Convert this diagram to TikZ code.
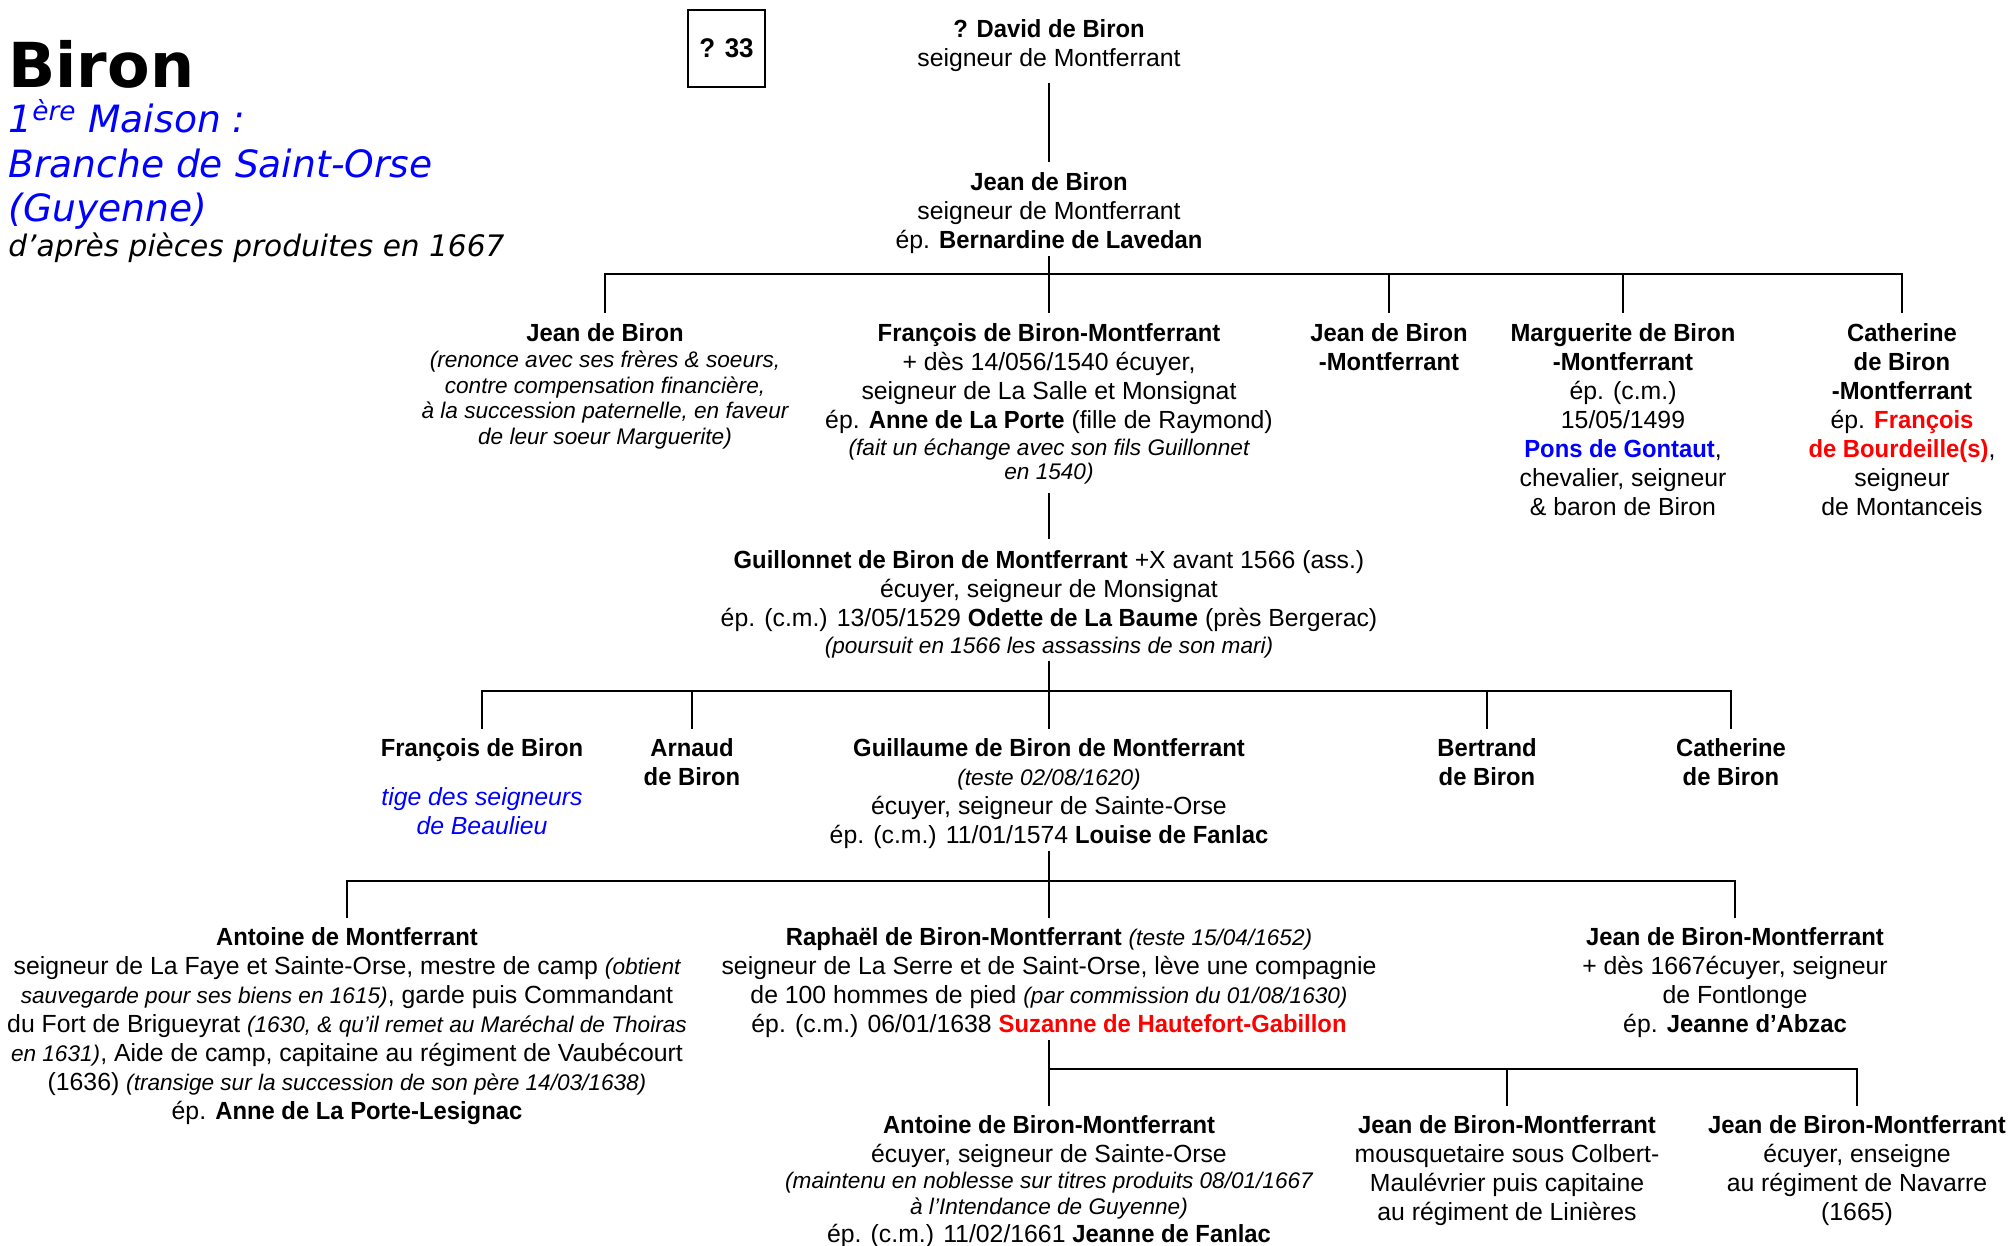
\documentclass[tikz,border=0pt]{standalone}
\usepackage{fontspec}
\setmainfont{Liberation Sans}[BoldFeatures={FakeStretch=0.96}]
\newfontfamily\titlefont{DejaVu Sans}
\usepackage{xcolor}
\usepackage{tikz}

\newcommand{\remq}[1]{{\fontsize{11.3}{12.8}\selectfont\itshape #1}}  % remarques en italique

\begin{document}
\begin{tikzpicture}[x=0.5pt,y=-0.5pt]
    \definecolor{myblue}{RGB}{0,0,255}
    \definecolor{myred}{RGB}{255,0,0}

    \tikzstyle{person}=[align=center,inner sep=0pt,anchor=north,font=\fontsize{12.4}{14.45}\selectfont,execute at begin node={\rule{0pt}{10pt}}]  % une personne
    \tikzstyle{link}=[line width=1pt,shorten >=5pt]  % trait de filiation
    \tikzstyle{titre}=[anchor=base west,inner sep=0pt]  % lignes du titre

    \useasboundingbox (0,0) rectangle (2014,1246);

    % titre
    \node[titre,font=\titlefont\bfseries\fontsize{31}{31}\selectfont] (biron) at (8,88) {Biron};
    \node[titre,text=myblue,font=\titlefont\itshape\fontsize{18.8}{22}\selectfont] (maison) at (8,133) {1\textsuperscript{ère} Maison :};
    \node[titre,text=myblue,font=\titlefont\itshape\fontsize{18.8}{22}\selectfont] (branche) at (8,178) {Branche de Saint-Orse};
    \node[titre,text=myblue,font=\titlefont\itshape\fontsize{18.8}{22}\selectfont] (guyenne) at (8,222) {(Guyenne)};
    \node[titre,font=\titlefont\itshape\fontsize{14.8}{17}\selectfont] (source) at (8,257) {d’après pièces produites en 1667};
    \node[draw,line width=0.8pt,minimum width=38.5pt,minimum height=38.5pt,inner sep=0pt,font=\bfseries\fontsize{13.5}{13.5}\selectfont] (num) at (726.5,48.5) {? 33};

    % generations
    \node[person] (david) at (1049,19.5) {\textbf{? David de Biron}\\seigneur de Montferrant};
    \node[person] (jean) at (1049,172.5) {\textbf{Jean de Biron}\\seigneur de Montferrant\\ép. \textbf{Bernardine de Lavedan}};

    \node[person] (jeanA) at (605,323.5) {\textbf{Jean de Biron}\\[-1.6pt]\remq{(renonce avec ses frères \& soeurs,}\\[-1.6pt]\remq{contre compensation financière,}\\[-1.6pt]\remq{à la succession paternelle, en faveur}\\[-1.6pt]\remq{de leur soeur Marguerite)}};
    \node[person] (francois) at (1049,323.5) {\textbf{François de Biron-Montferrant}\\+ dès 14/056/1540 écuyer,\\seigneur de La Salle et Monsignat\\ép. \textbf{Anne de La Porte} (fille de Raymond)\\[-1pt]\remq{(fait un échange avec son fils Guillonnet}\\[-2.2pt]\remq{en 1540)}};
    \node[person] (jeanB) at (1389,323.5) {\textbf{Jean de Biron}\\\textbf{-Montferrant}};
    \node[person] (marguerite) at (1623,323.5) {\textbf{Marguerite de Biron}\\\textbf{-Montferrant}\\ép. (c.m.)\\15/05/1499\\\textcolor{myblue}{\textbf{Pons de Gontaut}},\\chevalier,  seigneur\\\& baron de Biron};
    \node[person] (catherineA) at (1902,323.5) {\textbf{Catherine}\\\textbf{de Biron}\\\textbf{-Montferrant}\\ép. \textcolor{myred}{\textbf{François}}\\\textcolor{myred}{\textbf{de Bourdeille(s)}},\\seigneur\\de Montanceis};

    \node[person] (guillonnet) at (1049,550.5) {\textbf{Guillonnet de Biron de Montferrant} +X avant 1566 (ass.)\\écuyer, seigneur de Monsignat\\ép. (c.m.) 13/05/1529 \textbf{Odette de La Baume} (près Bergerac)\\[-1pt]\remq{(poursuit en 1566 les assassins de son mari)}};

    \node[person] (francoisB) at (482,738.5) {\textbf{François de Biron}\\[10pt]\textcolor{myblue}{\itshape tige des seigneurs}\\\textcolor{myblue}{\itshape de Beaulieu}};
    \node[person] (arnaud) at (692,738.5) {\textbf{Arnaud}\\\textbf{de Biron}};
    \node[person] (guillaume) at (1049,738.5) {\textbf{Guillaume de Biron de Montferrant}\\\remq{(teste 02/08/1620)}\\écuyer, seigneur de Sainte-Orse\\ép. (c.m.) 11/01/1574 \textbf{Louise de Fanlac}};
    \node[person] (bertrand) at (1487,738.5) {\textbf{Bertrand}\\\textbf{de Biron}};
    \node[person] (catherineB) at (1731,738.5) {\textbf{Catherine}\\\textbf{de Biron}};

    \node[person] (antoineA) at (347,927.5) {\textbf{Antoine de Montferrant}\\seigneur de La Faye et Sainte-Orse, mestre de camp \remq{(obtient}\\\remq{sauvegarde pour ses biens en 1615)}, garde puis Commandant\\du Fort de Brigueyrat \remq{(1630, \& qu’il remet au Maréchal de Thoiras}\\\remq{en 1631)}, Aide de camp, capitaine au régiment de Vaubécourt\\(1636) \remq{(transige sur la succession de son père 14/03/1638)}\\ép.  \textbf{Anne de La Porte-Lesignac}};
    \node[person] (raphael) at (1049,927.5) {\textbf{Raphaël de Biron-Montferrant} \remq{(teste 15/04/1652)}\\seigneur de La Serre et de Saint-Orse, lève une compagnie\\de 100 hommes de pied \remq{(par commission du 01/08/1630)}\\ép. (c.m.) 06/01/1638 \textcolor{myred}{\textbf{Suzanne de Hautefort-Gabillon}}};
    \node[person] (jeanC) at (1735,927.5) {\textbf{Jean de Biron-Montferrant}\\+ dès 1667écuyer, seigneur\\de Fontlonge\\ép. \textbf{Jeanne d’Abzac}};

    \node[person] (antoineB) at (1049,1115.5) {\textbf{Antoine de Biron-Montferrant}\\écuyer, seigneur de Sainte-Orse\\[-1.6pt]\remq{(maintenu en noblesse sur titres produits 08/01/1667}\\[-1.6pt]\remq{à l’Intendance de Guyenne)}\\[-0.5pt]ép. (c.m.) 11/02/1661 \textbf{Jeanne de Fanlac}};
    \node[person] (jeanD) at (1507,1115.5) {\textbf{Jean de Biron-Montferrant}\\mousquetaire sous Colbert-\\Maulévrier puis capitaine\\au régiment de Linières};
    \node[person] (jeanE) at (1857,1115.5) {\textbf{Jean de Biron-Montferrant}\\écuyer, enseigne\\au régiment de Navarre\\(1665)};

    % barres
    \coordinate (b1) at (1049,274);
    \coordinate (b2) at (1049,691);
    \coordinate (b3) at (1049,881);
    \coordinate (b4) at (1049,1069);

    % traits
    \draw[link,shorten <=5.5pt] (david) -- (jean);
    \draw[link,shorten >=0pt,shorten <=1pt] (jean) -- (b1);
    \foreach \c in {jeanA,francois,jeanB,marguerite,catherineA}
        \draw[link] (b1) -| (\c);
    \draw[link,shorten <=4pt,shorten >=6pt] (francois) -- (guillonnet);
    \draw[link,shorten >=0pt,shorten <=1pt] (guillonnet) -- (b2);
    \foreach \c in {francoisB,arnaud,guillaume,bertrand,catherineB}
        \draw[link] (b2) -| (\c);
    \draw[link,shorten >=0pt,shorten <=1pt] (guillaume) -- (b3);
    \foreach \c in {antoineA,raphael,jeanC}
        \draw[link] (b3) -| (\c);
    \draw[link,shorten >=0pt,shorten <=1pt] (raphael) -- (b4);
    \foreach \c in {antoineB,jeanD,jeanE}
        \draw[link] (b4) -| (\c);
\end{tikzpicture}
\end{document}
